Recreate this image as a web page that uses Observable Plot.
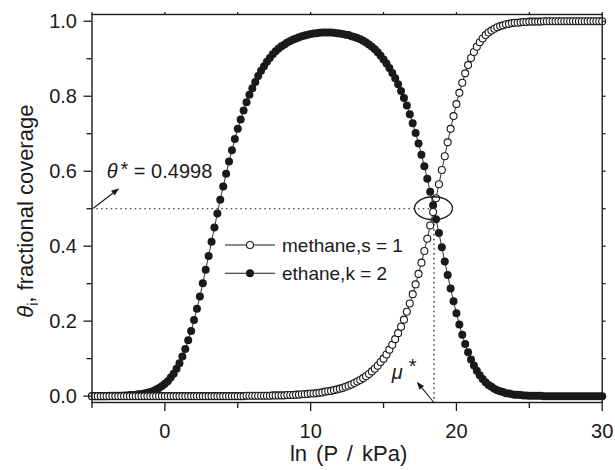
<!DOCTYPE html>
<html><head><meta charset="utf-8">
<script src="https://cdn.jsdelivr.net/npm/d3@7"></script>
<script src="https://cdn.jsdelivr.net/npm/@observablehq/plot@0.6"></script>
<style>
body{margin:0;background:#fff;}
#chart{width:615px;height:470px;}
</style></head><body><div id="chart"></div>
<script>
// ln(P/kPa) sample positions
const lnP = [-5,-4.8,-4.6,-4.4,-4.2,-4,-3.8,-3.6,-3.4,-3.2,-3,-2.8,-2.6,-2.4,-2.2,-2,-1.8,-1.6,-1.4,-1.2,-1,-0.8,-0.6,-0.4,-0.2,
0,0.2,0.4,0.6,0.8,1,1.2,1.4,1.6,1.8,2,2.2,2.4,2.6,2.8,3,3.2,3.4,3.6,3.8,4,4.2,4.4,4.6,4.8,
5,5.2,5.4,5.6,5.8,6,6.2,6.4,6.6,6.8,7,7.2,7.4,7.6,7.8,8,8.2,8.4,8.6,8.8,9,9.2,9.4,9.6,9.8,
10,10.2,10.4,10.6,10.8,11,11.2,11.4,11.6,11.8,12,12.2,12.4,12.6,12.8,13,13.2,13.4,13.6,13.8,14,14.2,14.4,14.6,14.8,
15,15.2,15.4,15.6,15.8,16,16.2,16.4,16.6,16.8,17,17.2,17.4,17.6,17.8,18,18.2,18.4,18.6,18.8,19,19.2,19.4,19.6,19.8,
20,20.2,20.4,20.6,20.8,21,21.2,21.4,21.6,21.8,22,22.2,22.4,22.6,22.8,23,23.2,23.4,23.6,23.8,24,24.2,24.4,24.6,24.8,
25,25.2,25.4,25.6,25.8,26,26.2,26.4,26.6,26.8,27,27.2,27.4,27.6,27.8,28,28.2,28.4,28.6,28.8,29,29.2,29.4,29.6,29.8,30];

// methane (s = 1) fractional coverage
const methane = [0,0,0,0,0,0,0,0,0,0,0,0,0,0,0,0,0,0,0,0,0,0,0,0,0,
0,0,0,0,0,0,0,0,0,0,0,0,0,0,0,0,0,0,0,0,0,0,0,0,0,
0,0,0,0.001,0.001,0.001,0.001,0.001,0.001,0.001,0.001,0.001,0.002,0.002,0.002,0.002,0.002,0.003,0.003,0.003,0.004,0.004,0.005,0.005,0.006,
0.007,0.007,0.008,0.009,0.010,0.012,0.013,0.014,0.016,0.018,0.020,0.022,0.025,0.028,0.031,0.035,0.039,0.043,0.048,0.053,0.059,0.066,0.073,0.081,0.091,
0.100,0.111,0.124,0.137,0.152,0.168,0.185,0.204,0.225,0.247,0.272,0.298,0.326,0.356,0.387,0.420,0.455,0.491,0.528,0.565,0.603,0.640,0.677,0.713,0.747,
0.779,0.809,0.836,0.861,0.883,0.902,0.918,0.932,0.944,0.954,0.963,0.970,0.975,0.980,0.984,0.987,0.989,0.992,0.993,0.995,0.996,0.996,0.997,0.998,0.998,
0.999,0.999,0.999,0.999,0.999,1,1,1,1,1,1,1,1,1,1,1,1,1,1,1,1,1,1,1,1,1];

// ethane (k = 2) fractional coverage
const ethane = [0,0,0,0,0,0,0.001,0.001,0.001,0.001,0.001,0.002,0.002,0.003,0.003,0.004,0.005,0.006,0.007,0.009,0.011,0.014,0.018,0.022,0.027,
0.033,0.040,0.050,0.060,0.073,0.088,0.106,0.126,0.149,0.174,0.203,0.233,0.266,0.301,0.337,0.374,0.412,0.450,0.487,0.524,0.559,0.593,0.626,0.656,0.686,
0.713,0.738,0.762,0.784,0.804,0.821,0.838,0.854,0.868,0.880,0.892,0.902,0.912,0.920,0.927,0.933,0.938,0.943,0.947,0.951,0.954,0.957,0.960,0.962,0.964,
0.966,0.967,0.968,0.969,0.970,0.970,0.970,0.970,0.969,0.968,0.967,0.966,0.964,0.963,0.960,0.958,0.955,0.952,0.948,0.943,0.938,0.932,0.925,0.917,0.908,
0.898,0.887,0.875,0.862,0.848,0.832,0.814,0.795,0.775,0.752,0.728,0.702,0.674,0.644,0.613,0.580,0.545,0.509,0.472,0.435,0.397,0.359,0.323,0.287,0.253,
0.221,0.191,0.164,0.139,0.117,0.098,0.082,0.068,0.056,0.046,0.037,0.030,0.025,0.020,0.016,0.013,0.011,0.008,0.007,0.005,0.004,0.004,0.003,0.002,0.002,
0.001,0.001,0.001,0.001,0.001,0,0,0,0,0,0,0,0,0,0,0,0,0,0,0,0,0,0,0,0,0];

const xMajor = [0, 10, 20, 30];
const xMinor = [-5, 5, 15, 25];
const yMajor = [0, 0.2, 0.4, 0.6, 0.8, 1.0];
const yMinor = [0.1, 0.3, 0.5, 0.7, 0.9];
const seriesNames = ["methane,s = 1", "ethane,k = 2"];
const thetaStar = 0.4998;   // θ* at crossing
const muStar = 18.46;       // μ* (ln P at crossing)

const ink = "#1a1a1a";
const FONT = "'Liberation Sans', Arial, Helvetica, sans-serif";
const rows = lnP.map((x, i) => ({x, m: methane[i], e: ethane[i]}));

const chart = Plot.plot({
  width: 615, height: 470,
  marginTop: 14, marginRight: 13.3, marginBottom: 68, marginLeft: 91.5,
  style: {fontFamily: FONT, fontSize: "20px", color: ink, background: "#fff", overflow: "visible"},
  x: {domain: [-5, 30]},
  y: {domain: [-0.017, 1.018]},
  marks: [
    // dotted guides
    Plot.ruleY([thetaStar], {x1: -5, x2: 18.35, stroke: ink, strokeWidth: 1.2, strokeDasharray: "1.6,3.2"}),
    Plot.ruleX([muStar], {y1: 0.47, y2: -0.017, stroke: ink, strokeWidth: 1.2, strokeDasharray: "1.6,3.2"}),
    // series
    Plot.line(rows, {x: "x", y: "e", stroke: ink, strokeWidth: 0.9}),
    Plot.dot(rows, {x: "x", y: "e", r: 4, fill: ink, stroke: "none"}),
    Plot.line(rows, {x: "x", y: "m", stroke: ink, strokeWidth: 0.9}),
    Plot.dot(rows, {x: "x", y: "m", r: 3.5, fill: "#fff", stroke: ink, strokeWidth: 1.1}),
    // axes
    Plot.axisX({ticks: xMajor, tickSize: 9, tickPadding: 12, tickFormat: d => String(d), label: null, fontSize: 20, strokeWidth: 1.3}),
    Plot.axisX({ticks: xMinor, tickSize: 6, tickFormat: () => "", label: null, strokeWidth: 1.3}),
    Plot.axisX({anchor: "top", ticks: xMajor.concat(xMinor), tickSize: 3, tickFormat: () => "", label: null, strokeWidth: 1.2}),
    Plot.axisY({ticks: yMajor, tickSize: 8, tickPadding: 7, tickFormat: d3.format(".1f"), label: null, fontSize: 20, strokeWidth: 1.3}),
    Plot.axisY({ticks: yMinor, tickSize: 5, tickFormat: () => "", label: null, strokeWidth: 1.3}),
    Plot.axisY({anchor: "right", ticks: yMajor.concat(yMinor), tickSize: 3, tickFormat: () => "", label: null, strokeWidth: 1.2}),
    Plot.frame({stroke: ink, strokeWidth: 1.4})
  ]
});

const sx = chart.scale("x"), sy = chart.scale("y");
const X = v => sx.apply(v), Y = v => sy.apply(v);
const svg = d3.select(chart);

// ellipse around the crossing point
svg.append("ellipse")
  .attr("cx", X(muStar)).attr("cy", Y(thetaStar))
  .attr("rx", 19).attr("ry", 11.5)
  .attr("fill", "none").attr("stroke", ink).attr("stroke-width", 1.3);

// arrows
function arrow(x1, y1, x2, y2) {
  const g = svg.append("g");
  const ang = Math.atan2(y2 - y1, x2 - x1), L = 8, W = 3;
  const bx = x2 - L * Math.cos(ang), by = y2 - L * Math.sin(ang);
  g.append("line").attr("x1", x1).attr("y1", y1).attr("x2", bx).attr("y2", by)
    .attr("stroke", ink).attr("stroke-width", 1.1);
  const px = -Math.sin(ang) * W, py = Math.cos(ang) * W;
  g.append("path").attr("d", `M${x2},${y2}L${bx + px},${by + py}L${bx - px},${by - py}Z`).attr("fill", ink);
}
arrow(X(-4.88), Y(thetaStar), X(-3.1), Y(0.553));
arrow(X(muStar), Y(-0.017), X(17.31), Y(0.037));

// annotation texts
const t1 = svg.append("text").attr("x", X(-3.96)).attr("y", Y(0.4998) - 30.5)
  .attr("text-anchor", "start").attr("font-family", FONT).attr("font-size", 20).attr("fill", ink);
t1.append("tspan").attr("font-style", "italic").text("θ");
t1.append("tspan").attr("dx", 3).attr("dy", -2).text("*");
t1.append("tspan").attr("dy", 2).text(" = " + thetaStar.toFixed(4));

const t2 = svg.append("text").attr("x", X(15.6)).attr("y", 379)
  .attr("text-anchor", "start").attr("font-family", FONT).attr("font-size", 20).attr("fill", ink);
t2.append("tspan").attr("font-style", "italic").text("μ");
t2.append("tspan").attr("dx", 6).attr("dy", -6).text("*");

// axis titles
svg.append("text").attr("x", (X(-5) + X(30)) / 2 + 2).attr("y", 461)
  .attr("text-anchor", "middle").attr("font-family", FONT).attr("font-size", 22).attr("fill", ink)
  .attr("word-spacing", 3)
  .text("ln (P / kPa)");
const yt = svg.append("text").attr("transform", `translate(33,${(Y(0) + Y(1)) / 2 + 3}) rotate(-90)`)
  .attr("text-anchor", "middle").attr("font-family", FONT).attr("font-size", 22).attr("fill", ink);
yt.append("tspan").attr("font-style", "italic").text("θ");
yt.append("tspan").attr("font-size", 14).attr("dy", 5).text("i");
yt.append("tspan").attr("dy", -5).text(", fractional coverage");

// legend
const leg = svg.append("g");
seriesNames.forEach((name, i) => {
  const cy = 245 + i * 28.3;
  leg.append("line").attr("x1", 225).attr("x2", 275).attr("y1", cy).attr("y2", cy)
    .attr("stroke", ink).attr("stroke-width", 1.1);
  leg.append("circle").attr("cx", 250).attr("cy", cy).attr("r", i === 0 ? 3.5 : 4)
    .attr("fill", i === 0 ? "#fff" : ink).attr("stroke", ink).attr("stroke-width", i === 0 ? 1.1 : 0);
  leg.append("text").attr("x", 282).attr("y", cy + 7)
    .attr("text-anchor", "start").attr("font-family", FONT).attr("font-size", 19).attr("fill", ink).text(name);
});

document.getElementById("chart").appendChild(chart);
</script></body></html>
